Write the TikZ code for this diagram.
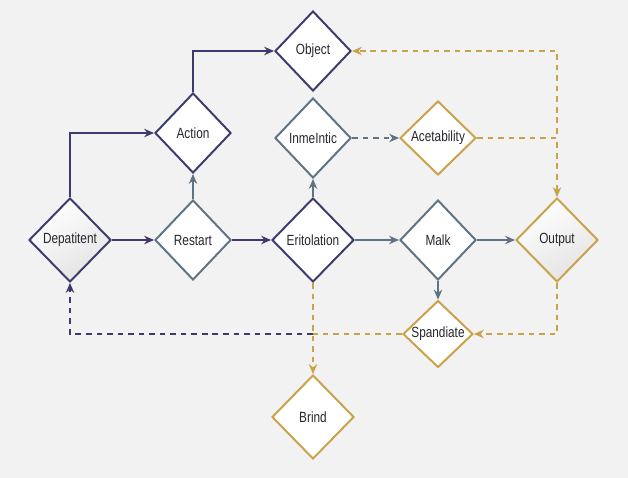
\documentclass[tikz,border=0pt]{standalone}
\usepackage{fontspec}
\setmainfont[FakeStretch=0.8]{Liberation Sans}
\usetikzlibrary{shapes.geometric,arrows.meta}
\definecolor{navy}{HTML}{3D3B6E}
\definecolor{slate}{HTML}{5F7385}
\definecolor{gold}{HTML}{C9A24A}
\definecolor{ink}{HTML}{26262E}
\tikzset{
  dia/.style={diamond, draw, line width=1.4pt, fill=white, inner sep=0pt, text=ink,
    font=\fontsize{10.5}{12}\selectfont, minimum width=1.9cm, minimum height=2cm},
  big/.style={minimum width=2.05cm, minimum height=2.1cm},
  shaded/.style={top color=white, bottom color=black!11, shading angle=30},
  link/.style={line width=1.1pt, -{Stealth[length=7pt,width=6pt]}},
  plain/.style={line width=1.1pt},
  dashline/.style={dash pattern=on 4pt off 3.5pt}
}
\begin{document}
\begin{tikzpicture}
  % Background
  \fill[black!5] (0, 0) rectangle (15.7, -11.95);
  \useasboundingbox (0, 0) rectangle (15.7, -11.95);
  % Nodes
  \node (Dep) [dia, big, shaded, draw=navy] at (1.75, -6.0) {Depatitent};
  \node (Res) [dia, draw=slate] at (4.825, -6.0) {Restart};
  \node (Act) [dia, draw=navy] at (4.825, -3.325) {Action};
  \node (Obj) [dia, draw=navy] at (7.825, -1.275) {Object};
  \node (Inm) [dia, draw=slate] at (7.825, -3.45) {InmeIntic};
  \node (Ace) [dia, draw=gold, minimum height=1.85cm] at (10.95, -3.45) {Acetability};
  \node (Eri) [dia, big, draw=navy] at (7.825, -6.0) {Eritolation};
  \node (Mal) [dia, draw=slate] at (10.95, -6.0) {Malk};
  \node (Out) [dia, big, shaded, draw=gold] at (13.925, -6.0) {Output};
  \node (Spa) [dia, draw=gold, minimum width=1.75cm, minimum height=1.65cm] at (10.95, -8.35) {Spandiate};
  \node (Bri) [dia, big, draw=gold] at (7.825, -10.425) {Brind};
  \coordinate (J) at (Eri |- Spa);
  % Arrows
  \draw[link, navy] (Dep) -- (Res);
  \draw[link, navy] (Dep.north) |- (Act.west);
  \draw[link, slate] (Res) -- (Act);
  \draw[link, navy] (Act.north) |- (Obj.west);
  \draw[link, navy] (Res) -- (Eri);
  \draw[link, slate] (Eri) -- (Inm);
  \draw[link, slate, dashline] (Inm) -- (Ace);
  \draw[link, slate] (Eri) -- (Mal);
  \draw[link, slate] (Mal) -- (Out);
  \draw[link, slate] (Mal) -- (Spa);
  \draw[link, gold, dashline] (Ace.east) -| (Out.north);
  \draw[link, gold, dashline] (Ace.east) -| (Out |- Obj) -- (Obj.east);
  \draw[link, gold, dashline] (Out.south) |- (Spa.east);
  \draw[link, gold, dashline] (Eri.south) -- (Bri.north);
  \draw[plain, gold, dashline] (Spa.west) -- (J);
  \draw[link, navy, dashline] (J) -| (Dep.south);
\end{tikzpicture}
\end{document}
